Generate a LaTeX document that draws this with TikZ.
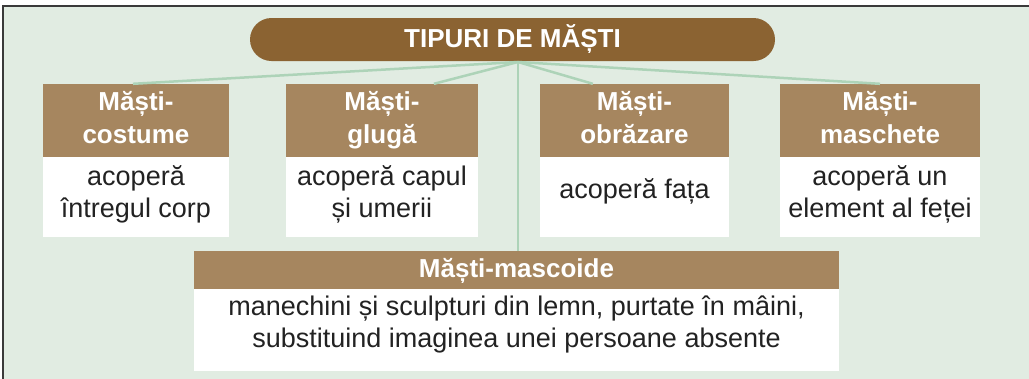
\documentclass[tikz,border=0pt]{standalone}
\usepackage{fontspec}
\setmainfont{Liberation Sans}
\usetikzlibrary{calc}
\definecolor{titlebrown}{HTML}{8B6332}
\definecolor{hdrbrown}{HTML}{A6865F}
\definecolor{bggreen}{HTML}{E1ECE2}
\definecolor{linegreen}{HTML}{ADD3B8}
\definecolor{framegrey}{HTML}{3A3A3A}
\definecolor{bodytext}{HTML}{222222}
\newcommand\upst[1]{\rule{0pt}{#1}}
\newcommand\dnst[1]{\rule[-#1]{0pt}{#1}}
\begin{document}
\begin{tikzpicture}[x=1pt,y=-1pt,
  hdr/.style={fill=hdrbrown, text=white, inner sep=0pt, align=center,
    font=\bfseries\fontsize{26}{33}\selectfont, minimum height=73pt},
  body/.style={fill=white, text=bodytext, inner sep=0pt, align=center,
    font=\fontsize{27}{32}\selectfont, minimum height=80pt},
  conn/.style={draw=linegreen, line width=2.5pt}]
\useasboundingbox (0,0) rectangle (1029,378);
\clip (0,0) rectangle (1029,378);
\fill[white] (0,0) rectangle (1029,378);
\draw[fill=bggreen, draw=framegrey, line width=1.5pt] (3,6) rectangle (1040,390);
% title
\node[fill=titlebrown, text=white, rounded corners=21.5pt, minimum width=525pt, minimum height=43pt,
  inner sep=0pt, font=\bfseries\fontsize{26}{30}\selectfont] (title) at (512.5,39.5) {TIPURI DE MĂȘTI};
\coordinate (hub) at (518,62);
% boxes
\node[hdr, minimum width=186pt] (h1) at (136,120.5) {\upst{26pt}Măști-\\costume\dnst{14pt}};
\node[hdr, minimum width=192pt] (h2) at (382,120.5) {\upst{26pt}Măști-\\glugă\dnst{14pt}};
\node[hdr, minimum width=189pt] (h3) at (634.5,120.5) {\upst{26pt}Măști-\\obrăzare\dnst{14pt}};
\node[hdr, minimum width=200pt] (h4) at (880,120.5) {\upst{26pt}Măști-\\maschete\dnst{14pt}};
\node[body, minimum width=186pt] (b1) at (136,197) {\upst{26pt}acoperă\\întregul corp\dnst{17pt}};
\node[body, minimum width=192pt] (b2) at (382,197) {\upst{26pt}acoperă capul\\și umerii\dnst{17pt}};
\node[body, minimum width=189pt] (b3) at (634.5,197) {\upst{26pt}acoperă fața\dnst{23pt}};
\node[body, minimum width=200pt] (b4) at (880,197) {\upst{26pt}acoperă un\\element al feței\dnst{17pt}};
\node[hdr, minimum width=645pt, minimum height=37pt] (h5) at (516.5,270.5) {\upst{26pt}Măști-mascoide\dnst{13pt}};
\node[body, minimum width=645pt, minimum height=82pt] (b5) at (516.5,330) {\upst{26pt}manechini și sculpturi din lemn, purtate în mâini,\\substituind imaginea unei persoane absente\dnst{24pt}};
% connectors
\coordinate (t2) at ($(h2.north west)!0.77!(h2.north east)$);
\coordinate (t3) at ($(h3.north west)!0.28!(h3.north east)$);
\draw[conn] (hub) -- ([xshift=-3pt]h1.north);
\draw[conn] (hub) -- (t2);
\draw[conn] (hub) -- (t3);
\draw[conn] (hub) -- (h4.north);
\draw[conn] (hub) -- (hub |- h5.north);
\end{tikzpicture}
\end{document}
